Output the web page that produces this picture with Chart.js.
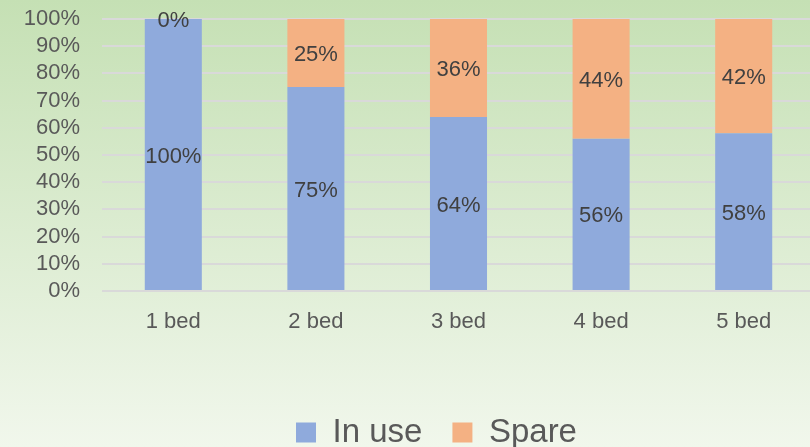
<!DOCTYPE html>
<html>
<head>
<meta charset="utf-8">
<script src="https://cdn.jsdelivr.net/npm/chart.js@4.4.1/dist/chart.umd.min.js"></script>
<style>
  html, body { margin: 0; padding: 0; width: 810px; height: 447px; overflow: hidden;
    background: linear-gradient(to bottom, #c5e0b4 0%, #f1f7ec 100%); }
  #wrap { width: 815px; height: 447px; }
  canvas { display: block; }
</style>
</head>
<body>
<div id="wrap"><canvas id="c" width="815" height="447"></canvas></div>
<script>
const categories = ['1 bed', '2 bed', '3 bed', '4 bed', '5 bed'];
const inUse = [100, 75, 64, 56, 58];
const spare = [0, 25, 36, 44, 42];
const yTicks = [0, 10, 20, 30, 40, 50, 60, 70, 80, 90, 100];

const FONT = "'Liberation Sans', Arial, sans-serif";

const dataLabels = {
  id: 'dataLabels',
  afterDatasetsDraw(chart) {
    const ctx = chart.ctx;
    ctx.save();
    ctx.font = '22px ' + FONT;
    ctx.fillStyle = '#404040';
    ctx.textAlign = 'center';
    ctx.textBaseline = 'middle';
    chart.data.datasets.forEach((ds, i) => {
      const meta = chart.getDatasetMeta(i);
      meta.data.forEach((el, j) => {
        const p = el.getProps(['x', 'y', 'base'], true);
        ctx.fillText(ds.data[j] + '%', p.x, (p.y + p.base) / 2 + 2);
      });
    });
    ctx.restore();
  }
};

const shiftLegend = {
  id: 'shiftLegend',
  afterLayout(chart) {
    const l = chart.legend;
    if (!l) return;
    l.left += 29; l.right += 29;
    l.top += 12; l.bottom += 12;
  }
};

new Chart(document.getElementById('c'), {
  type: 'bar',
  data: {
    labels: categories,
    datasets: [
      { label: 'In use', data: inUse, backgroundColor: '#8faadc', borderWidth: 0 },
      { label: 'Spare', data: spare, backgroundColor: '#f4b183', borderWidth: 0 }
    ]
  },
  options: {
    responsive: false,
    animation: false,
    devicePixelRatio: 1,
    layout: { padding: 0 },
    datasets: { bar: { categoryPercentage: 1, barPercentage: 0.4 } },
    plugins: {
      legend: {
        position: 'bottom',
        labels: {
          boxWidth: 20, boxHeight: 20, padding: 30,
          color: '#595959',
          font: { size: 33, family: FONT }
        }
      },
      tooltip: { enabled: false }
    },
    scales: {
      x: {
        stacked: true,
        grid: { display: false, drawTicks: false },
        border: { display: false },
        ticks: { color: '#595959', padding: 18, font: { size: 22, family: FONT } },
        afterFit(scale) { scale.height = 83; scale.paddingLeft = 0; scale.paddingRight = 0; }
      },
      y: {
        stacked: true,
        min: 0, max: 100,
        afterBuildTicks(scale) { scale.ticks = yTicks.map(v => ({ value: v })); },
        grid: { color: '#d9d9d9', lineWidth: 2, drawTicks: false },
        border: { display: false },
        ticks: {
          color: '#595959', padding: 22, autoSkip: false, stepSize: 10,
          font: { size: 22, family: FONT },
          callback: v => v + '%'
        },
        afterFit(scale) { scale.width = 102; scale.paddingTop = 19; scale.paddingBottom = 0; }
      }
    }
  },
  plugins: [dataLabels, shiftLegend]
});
</script>
</body>
</html>
